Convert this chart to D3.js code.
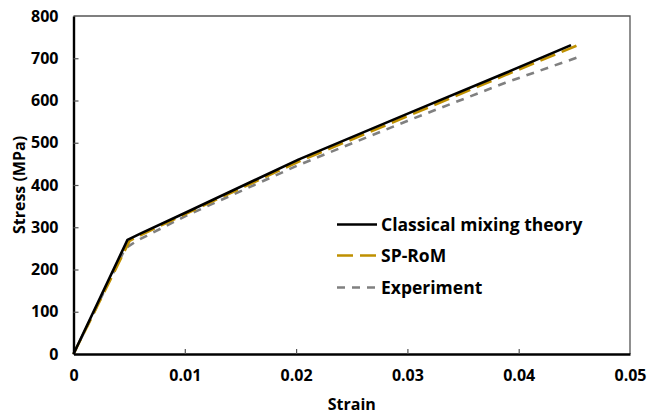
<!DOCTYPE html>
<html>
<head>
<meta charset="utf-8">
<script src="https://cdn.jsdelivr.net/npm/d3@7/dist/d3.min.js"></script>
<style>
  html, body { margin: 0; padding: 0; background: #fff; }
  svg text { font-family: "Open Sans", "Noto Sans", sans-serif; font-weight: 700; fill: #000; }
</style>
</head>
<body>
<svg id="chart" width="653" height="416"></svg>
<script>
// Stress–strain curves: [strain, stress (MPa)]
const classical = [[0, 0], [0.00485, 270], [0.0061, 286], [0.0101, 335], [0.0202, 460], [0.0303, 572], [0.0388, 665], [0.0447, 731]];
const spRom = [[0, 0], [0.00505, 268], [0.0061, 282], [0.0101, 332], [0.0202, 455], [0.0303, 566], [0.0388, 660], [0.0455, 733]];
const experiment = [[0, 0], [0.00465, 250], [0.0057, 268], [0.0071, 287], [0.0101, 327], [0.0202, 447], [0.0303, 555], [0.0388, 642], [0.0456, 705]];

const xTicks = [0, 0.01, 0.02, 0.03, 0.04, 0.05];
const yTicks = [0, 100, 200, 300, 400, 500, 600, 700, 800];
const seriesNames = ["Classical mixing theory", "SP-RoM", "Experiment"];

const svg = d3.select("#chart");
const plotLeft = 73.5, plotRight = 630, plotTop = 16, plotBottom = 354;

const x = d3.scaleLinear().domain([0, 0.05]).range([plotLeft, plotRight]);
const y = d3.scaleLinear().domain([0, 800]).range([plotBottom, plotTop]);

// plot frame (top and right edges)
svg.append("path")
  .attr("d", `M${plotLeft},${plotTop}H${plotRight}V${plotBottom}`)
  .attr("fill", "none").attr("stroke", "#555").attr("stroke-width", 1.3);

const line = d3.line().x(d => x(d[0])).y(d => y(d[1]));

const styles = [
  { data: classical, color: "#000000", width: 2.6, dash: null },
  { data: spRom, color: "#BF9000", width: 2.6, dash: "16,7" },
  { data: experiment, color: "#808080", width: 2.6, dash: "8,7" }
];

// draw the experiment first so the models sit on top
[styles[2], styles[1], styles[0]].forEach(s => {
  svg.append("path")
    .datum(s.data)
    .attr("d", line)
    .attr("fill", "none")
    .attr("stroke", s.color)
    .attr("stroke-width", s.width)
    .attr("stroke-dasharray", s.dash)
    .attr("stroke-linejoin", "round");
});

// axes with inward ticks
const xAxis = d3.axisBottom(x).tickValues(xTicks).tickSizeInner(-5).tickSizeOuter(0)
  .tickPadding(16).tickFormat(d => d === 0 ? "0" : d3.format(".2f")(d));
const yAxis = d3.axisLeft(y).tickValues(yTicks).tickSizeInner(-5).tickSizeOuter(0)
  .tickPadding(15).tickFormat(d3.format("d"));

const gx = svg.append("g").attr("transform", `translate(0,${plotBottom})`).call(xAxis);
const gy = svg.append("g").attr("transform", `translate(${plotLeft},0)`).call(yAxis);

[gx, gy].forEach(g => {
  g.select(".domain").attr("stroke", "#000").attr("stroke-width", 2.4);
  g.selectAll(".tick line").attr("stroke", "#555").attr("stroke-width", 1.2);
  g.selectAll(".tick text").attr("font-size", 16)
    .attr("font-family", "'Open Sans', sans-serif").attr("font-weight", 700).attr("fill", "#000");
});
gx.selectAll(".tick line").filter(d => d === 0 || d === 0.05).remove();
gy.selectAll(".tick line").filter(d => d === 0 || d === 800).remove();

// axis titles
svg.append("text")
  .attr("x", (plotLeft + plotRight) / 2).attr("y", 410)
  .attr("text-anchor", "middle").attr("font-size", 16)
  .text("Strain");
svg.append("text")
  .attr("transform", `translate(25,${(plotTop + plotBottom) / 2}) rotate(-90)`)
  .attr("text-anchor", "middle").attr("font-size", 16)
  .text("Stress (MPa)");

// legend
const legend = svg.append("g");
const legendY = [224.5, 255.5, 287.5];
styles.forEach((s, i) => {
  legend.append("line")
    .attr("x1", 337).attr("x2", 377)
    .attr("y1", legendY[i]).attr("y2", legendY[i])
    .attr("stroke", s.color).attr("stroke-width", s.width)
    .attr("stroke-dasharray", s.dash);
  legend.append("text")
    .attr("x", 381).attr("y", legendY[i]).attr("dy", "0.35em")
    .attr("font-size", 17.5)
    .text(seriesNames[i]);
});
</script>
</body>
</html>
